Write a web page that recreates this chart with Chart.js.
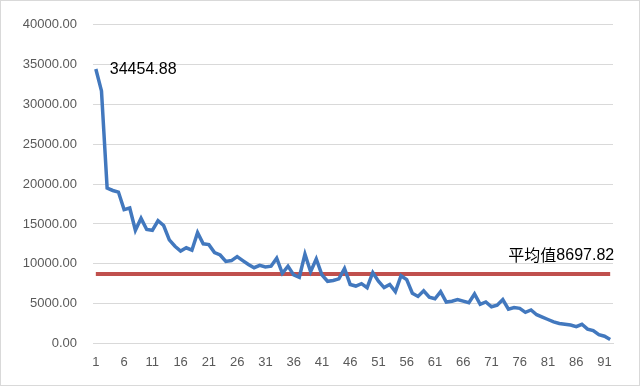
<!DOCTYPE html>
<html>
<head>
<meta charset="utf-8">
<script src="https://cdn.jsdelivr.net/npm/chart.js@4/dist/chart.umd.min.js"></script>
<style>
  html, body { margin: 0; padding: 0; background: #fff; }
  #wrap { position: relative; width: 640px; height: 386px; box-sizing: border-box; border: 1px solid #d9d9d9; }
</style>
</head>
<body>
<div id="wrap"><canvas id="myChart" width="638" height="384"></canvas></div>
<script>
const values = [
  34454.88, 31700, 19500, 19200, 19000, 16800, 17000, 14200, 15700, 14300,
  14200, 15400, 14800, 13000, 12200, 11600, 12000, 11700, 13900, 12500,
  12400, 11400, 11100, 10300, 10400, 10900, 10400, 9900, 9500, 9800,
  9600, 9700, 10700, 8800, 9700, 8600, 8300, 11200, 9000, 10600,
  8600, 7800, 7900, 8100, 9400, 7400, 7200, 7500, 7000, 8900,
  7800, 7000, 7400, 6500, 8500, 8000, 6300, 5900, 6600, 5800,
  5600, 6500, 5200, 5300, 5500, 5300, 5100, 6200, 4900, 5200,
  4600, 4800, 5500, 4300, 4500, 4400, 3900, 4200, 3600, 3300,
  3000, 2700, 2500, 2400, 2300, 2100, 2400, 1800, 1600, 1100,
  900, 500
];
const categories = values.map((v, i) => String(i + 1));
const avgValue = 8697.82;
const avgLine = categories.map(() => avgValue);
const yTicks = [0, 5000, 10000, 15000, 20000, 25000, 30000, 35000, 40000];

const textPlugin = {
  id: 'textPlugin',
  afterDatasetsDraw(chart) {
    const { ctx, scales: { x, y } } = chart;
    ctx.save();
    ctx.fillStyle = '#000';
    ctx.font = '16px "Liberation Sans", Arial, sans-serif';
    ctx.textBaseline = 'middle';
    ctx.textAlign = 'left';
    ctx.fillText(values[0].toFixed(2), x.getPixelForValue(0) + 14, y.getPixelForValue(values[0]) + 1);
    ctx.textAlign = 'right';
    const numText = avgValue.toFixed(2);
    const right = x.getPixelForValue(categories.length - 1) + 4;
    const yy = y.getPixelForValue(avgValue) - 19;
    ctx.fillText(numText, right, yy);
    const w = ctx.measureText(numText).width;
    ctx.font = '16px "Noto Sans CJK SC", sans-serif';
    ctx.fillText('平均值', right - w, yy);
    ctx.restore();
  }
};

new Chart(document.getElementById('myChart'), {
  type: 'line',
  data: {
    labels: categories,
    datasets: [{
      data: values,
      borderColor: '#4278BE',
      borderWidth: 3.5,
      pointRadius: 0,
      tension: 0
    }, {
      data: avgLine,
      borderColor: '#C0504D',
      borderWidth: 4,
      pointRadius: 0,
      tension: 0
    }]
  },
  options: {
    responsive: false,
    animation: false,
    layout: { padding: { left: 4, right: 26, top: 14, bottom: 4 } },
    plugins: { legend: { display: false }, tooltip: { enabled: false } },
    scales: {
      x: {
        offset: true,
        grid: { display: false, drawTicks: false },
        border: { color: '#d9d9d9', width: 1 },
        ticks: {
          autoSkip: false, maxRotation: 0, color: '#595959', font: { family: 'Liberation Sans', size: 13 },
          padding: 11,
          callback: (v, i) => (i % 5 === 0 ? categories[i] : '')
        }
      },
      y: {
        min: 0, max: 40000,
        afterBuildTicks: s => { s.ticks = yTicks.map(v => ({ value: v })); },
        afterFit: s => { s.width = 88; },
        grid: { color: '#d9d9d9', lineWidth: 1, drawTicks: false },
        border: { display: false },
        ticks: {
          color: '#595959', font: { family: 'Liberation Sans', size: 13 }, padding: 16,
          callback: v => Number(v).toFixed(2)
        }
      }
    }
  },
  plugins: [textPlugin]
});
</script>
</body>
</html>
